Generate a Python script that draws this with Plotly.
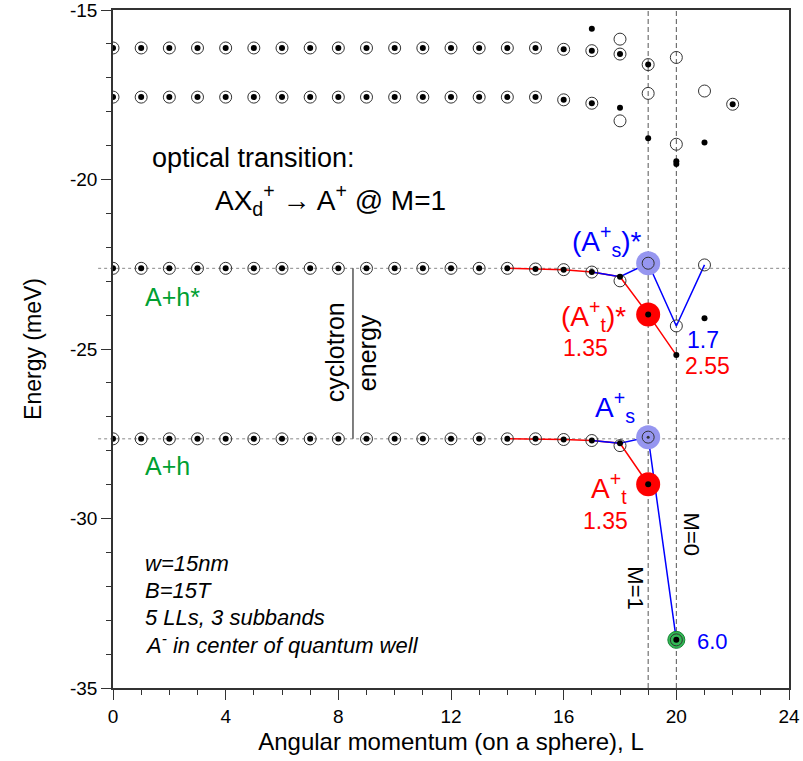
import plotly.graph_objects as go

# ---------------- data ----------------
# regular bands (L = 0..17), each point is an open circle with a dot inside
L_band = [0, 1, 2, 3, 4, 5, 6, 7, 8, 9, 10, 11, 12, 13, 14, 15, 16, 17]
E_band1 = [-16.12, -16.12, -16.12, -16.12, -16.12, -16.12, -16.12, -16.12, -16.12,
           -16.12, -16.12, -16.12, -16.12, -16.12, -16.12, -16.12, -16.16, -16.20]
E_band2 = [-17.57, -17.57, -17.57, -17.57, -17.57, -17.57, -17.57, -17.57, -17.57,
           -17.57, -17.57, -17.57, -17.57, -17.57, -17.57, -17.57, -17.65, -17.75]
E_band3 = [-22.62, -22.62, -22.62, -22.62, -22.62, -22.62, -22.62, -22.62, -22.62,
           -22.62, -22.62, -22.62, -22.62, -22.62, -22.62, -22.64, -22.66, -22.73]
E_band4 = [-27.65, -27.65, -27.65, -27.65, -27.65, -27.65, -27.65, -27.65, -27.65,
           -27.65, -27.65, -27.65, -27.65, -27.65, -27.65, -27.65, -27.67, -27.70]

# extra open circles (L >= 18)
circ_L = [18, 18, 19, 20, 18, 19, 21, 22, 20, 18, 19, 20, 21, 18, 19, 20]
circ_E = [-15.86, -16.30, -16.61, -16.40, -18.27, -17.46, -17.39, -17.78, -18.96,
          -22.99, -22.47, -24.32, -22.52, -27.85, -27.60, -33.58]

# extra filled dots
dot_L = [17, 18, 19, 18, 22, 19, 21, 20, 20, 18, 19, 20, 21, 18, 19, 20]
dot_E = [-15.55, -16.30, -16.61, -17.88, -17.78, -18.78, -18.91, -19.46, -19.54,
         -22.87, -23.98, -25.18, -24.09, -27.78, -28.99, -33.58]

small_dot_L = [19]
small_dot_E = [-27.60]

# highlighted states
blue_L = [19, 19]
blue_E = [-22.47, -27.60]
red_L = [19, 19]
red_E = [-23.98, -28.99]
green_L = [20]
green_E = [-33.58]

# connecting lines
red_upper_L = [14, 15, 16, 17, 18, 19, 20]
red_upper_E = [-22.62, -22.64, -22.66, -22.73, -22.87, -23.98, -25.18]
blue_upper_L = [17, 18, 19, 20, 21]
blue_upper_E = [-22.73, -22.87, -22.47, -24.32, -22.52]
red_lower_L = [14, 15, 16, 17, 18, 19]
red_lower_E = [-27.65, -27.65, -27.67, -27.70, -27.78, -28.99]
blue_lower_L = [17, 18, 19, 20]
blue_lower_E = [-27.70, -27.78, -27.60, -33.58]

level_excited = -22.62
level_ground = -27.65
M_lines = [19, 20]
cyclotron_L = 8.52

x_ticks = [0, 4, 8, 12, 16, 20, 24]
x_ticktext = ["0", "4", "8", "12", "16", "20", "24"]
y_ticks = [-35, -30, -25, -20, -15]
y_ticktext = ["-35", "-30", "-25", "-20", "-15"]

# ---------------- figure ----------------
FONT = "Liberation Sans, Arial, Helvetica, sans-serif"
BLUE = "#0000ff"
RED = "#ff0000"
GREEN = "rgb(0,160,50)"

fig = go.Figure()

line_specs = [(red_upper_L, red_upper_E, RED), (blue_upper_L, blue_upper_E, BLUE),
              (red_lower_L, red_lower_E, RED), (blue_lower_L, blue_lower_E, BLUE)]
for lx, ly, c in line_specs:
    fig.add_trace(go.Scatter(x=lx, y=ly, mode="lines", line=dict(color=c, width=1.5),
                             hoverinfo="skip", showlegend=False))

fig.add_trace(go.Scatter(x=blue_L, y=blue_E, mode="markers",
                         marker=dict(size=24, color="rgb(150,150,240)", line=dict(width=0)),
                         showlegend=False))
fig.add_trace(go.Scatter(x=red_L, y=red_E, mode="markers",
                         marker=dict(size=24, color=RED, line=dict(width=0)),
                         showlegend=False))
fig.add_trace(go.Scatter(x=green_L, y=green_E, mode="markers",
                         marker=dict(size=17, color="rgb(50,185,85)",
                                     line=dict(width=1, color="rgb(20,130,50)")),
                         showlegend=False))

all_circ_L = L_band * 4 + circ_L
all_circ_E = E_band1 + E_band2 + E_band3 + E_band4 + circ_E
all_dot_L = L_band * 4 + dot_L
all_dot_E = E_band1 + E_band2 + E_band3 + E_band4 + dot_E

fig.add_trace(go.Scatter(x=all_circ_L, y=all_circ_E, mode="markers",
                         marker=dict(symbol="circle-open", size=12, color="#333",
                                     line=dict(width=1)),
                         showlegend=False))
fig.add_trace(go.Scatter(x=all_dot_L, y=all_dot_E, mode="markers",
                         marker=dict(size=6, color="black", line=dict(width=0)),
                         showlegend=False))
fig.add_trace(go.Scatter(x=small_dot_L, y=small_dot_E, mode="markers",
                         marker=dict(size=3, color="#333", line=dict(width=0)),
                         showlegend=False))

shapes = []
for lev in [level_excited, level_ground]:
    shapes.append(dict(type="line", xref="paper", yref="y", x0=-0.022, x1=1, y0=lev, y1=lev,
                       line=dict(color="#888", width=1, dash="3px,3px"), layer="below"))
for m in M_lines:
    shapes.append(dict(type="line", xref="x", yref="paper", x0=m, x1=m, y0=0, y1=1,
                       line=dict(color="#555", width=1, dash="5px,3px"), layer="below"))
shapes.append(dict(type="line", xref="x", yref="y", x0=cyclotron_L, x1=cyclotron_L,
                   y0=level_excited, y1=level_ground, line=dict(color="#555", width=1.5)))

def ann(x, y, text, size, color="black", xanchor="center", angle=0):
    return dict(x=x, y=y, xref="x", yref="y", text=text, showarrow=False,
                font=dict(family=FONT, size=size, color=color),
                xanchor=xanchor, yanchor="middle", textangle=angle)

annotations = [
    ann(1.33, -19.37, "optical transition:", 27, xanchor="left"),
    ann(3.55, -20.6, "AX<sub>d</sub><sup>+</sup> → A<sup>+</sup> @ M=1", 28, xanchor="left"),
    ann(1.07, -23.47, "A+h*", 25, GREEN, xanchor="left"),
    ann(1.07, -28.45, "A+h", 25, GREEN, xanchor="left"),
    ann(7.89, -25.09, "cyclotron", 25, angle=-90),
    ann(9.02, -25.12, "energy", 25, angle=-90),
    ann(17.53, -21.8, "(A<sup>+</sup><sub>s</sub>)*", 28, BLUE),
    ann(17.07, -24.02, "(A<sup>+</sup><sub>t</sub>)*", 28, RED),
    ann(16.79, -24.98, "1.35", 23, RED),
    ann(20.3, -24.73, "1.7", 23, BLUE, xanchor="left"),
    ann(20.22, -25.50, "2.55", 23, RED, xanchor="left"),
    ann(17.81, -26.71, "A<sup>+</sup><sub>s</sub>", 28, BLUE),
    ann(17.6, -29.10, "A<sup>+</sup><sub>t</sub>", 28, RED),
    ann(17.5, -30.07, "1.35", 23, RED),
    ann(20.54, -30.46, "M=0", 22, angle=90),
    ann(18.52, -32.05, "M=1", 22, angle=90),
    ann(20.65, -33.64, "6.0", 22, BLUE, xanchor="left"),
    ann(1.07, -31.34, "<i>w=15nm</i>", 22, xanchor="left"),
    ann(1.07, -32.11, "<i>B=15T</i>", 22, xanchor="left"),
    ann(1.07, -32.91, "<i>5 LLs, 3 subbands</i>", 22, xanchor="left"),
    ann(1.07, -33.70, "<i>A<sup>-</sup> in center of quantum well</i>", 22, xanchor="left"),
]

axis_common = dict(showline=True, linecolor="#333", linewidth=1.5, mirror=True,
                   ticks="outside", ticklen=10, tickwidth=1, tickcolor="#333",
                   showgrid=False, zeroline=False, automargin=False,
                   ticklabeloverflow="allow",
                   tickfont=dict(family=FONT, size=19, color="black"),
                   minor=dict(ticks="outside", ticklen=5, tickwidth=1, tickcolor="#333",
                              dtick=1, showgrid=False))

fig.update_layout(
    width=803, height=761,
    margin=dict(l=113, r=14, t=10, b=73, autoexpand=False),
    plot_bgcolor="white", paper_bgcolor="white",
    shapes=shapes, annotations=annotations,
    xaxis=dict(range=[0, 24], tickvals=x_ticks, ticktext=x_ticktext,
               title=dict(text="Angular momentum (on a sphere), L", standoff=8,
                          font=dict(family=FONT, size=24, color="black")),
               **axis_common),
    yaxis=dict(range=[-35, -15], tickvals=y_ticks, ticktext=y_ticktext,
               title=dict(text="Energy (meV)", standoff=22,
                          font=dict(family=FONT, size=23, color="black")),
               **axis_common),
)

fig.write_html("out.html")
